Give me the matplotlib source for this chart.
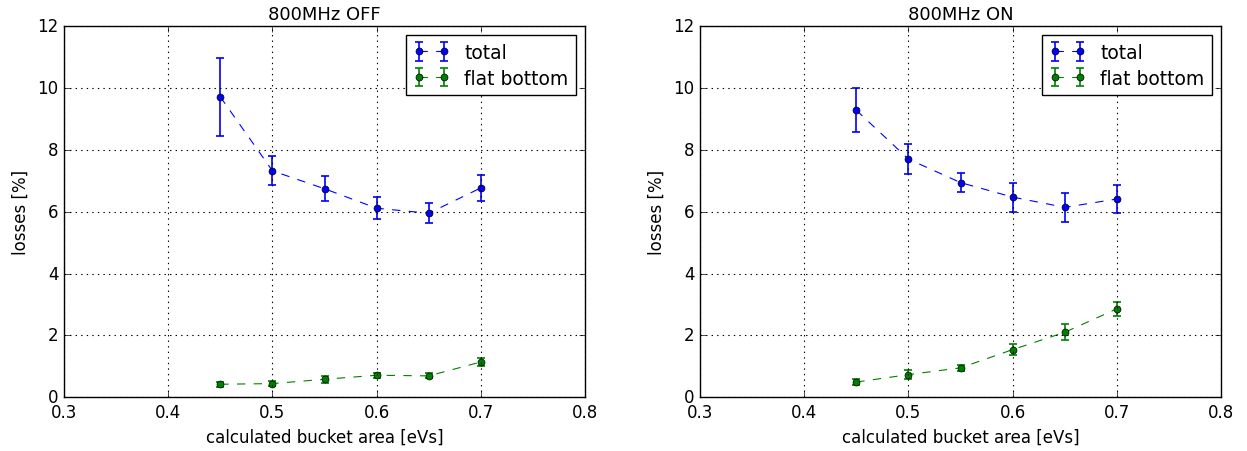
import matplotlib
matplotlib.use("Agg")
import matplotlib.pyplot as plt

plt.style.use("classic")

area = [0.45, 0.50, 0.55, 0.60, 0.65, 0.70]

off_total = [9.71, 7.32, 6.74, 6.11, 5.95, 6.77]
off_total_err = [1.26, 0.47, 0.41, 0.35, 0.32, 0.42]
off_fb = [0.42, 0.44, 0.58, 0.71, 0.69, 1.14]
off_fb_err = [0.08, 0.07, 0.12, 0.08, 0.08, 0.12]

on_total = [9.28, 7.70, 6.94, 6.47, 6.14, 6.41]
on_total_err = [0.72, 0.48, 0.31, 0.47, 0.47, 0.45]
on_fb = [0.49, 0.73, 0.95, 1.54, 2.10, 2.86]
on_fb_err = [0.10, 0.15, 0.10, 0.17, 0.26, 0.22]

titles = ["800MHz OFF", "800MHz ON"]

fig = plt.figure(figsize=(12.47, 4.52), dpi=100, facecolor="white")
ax1 = fig.add_axes([0.0513, 0.119, 0.418, 0.821])
ax2 = fig.add_axes([0.5613, 0.119, 0.418, 0.821])

for ax, tot, tote, fb, fbe, title in [
    (ax1, off_total, off_total_err, off_fb, off_fb_err, titles[0]),
    (ax2, on_total, on_total_err, on_fb, on_fb_err, titles[1]),
]:
    ax.errorbar(area, tot, yerr=tote, fmt="o--", color="b", ecolor="b",
                markeredgecolor="k", markersize=5, linewidth=0.8,
                capsize=3, elinewidth=1.2, capthick=1.2, label="total")
    ax.errorbar(area, fb, yerr=fbe, fmt="o--", color="g", ecolor="g",
                markeredgecolor="k", markersize=5, linewidth=0.8,
                capsize=3, elinewidth=1.2, capthick=1.2, label="flat bottom")
    ax.set_xlim(0.3, 0.8)
    ax.set_ylim(0, 12)
    ax.set_xticks([0.3, 0.4, 0.5, 0.6, 0.7, 0.8])
    ax.set_yticks([0, 2, 4, 6, 8, 10, 12])
    ax.grid(True, color="k", linestyle=":", linewidth=0.8)
    ax.set_title(title, fontsize=13)
    ax.set_xlabel("calculated bucket area [eVs]", fontsize=12)
    ax.set_ylabel("losses [%]", fontsize=12)
    ax.tick_params(labelsize=12)
    ax.legend(loc="upper right", numpoints=2, fontsize=13.5,
              handlelength=1.95, handletextpad=0.75, borderaxespad=0.5,
              borderpad=0.4, labelspacing=0.35)

fig.savefig("out.png", dpi=100, facecolor="white")
